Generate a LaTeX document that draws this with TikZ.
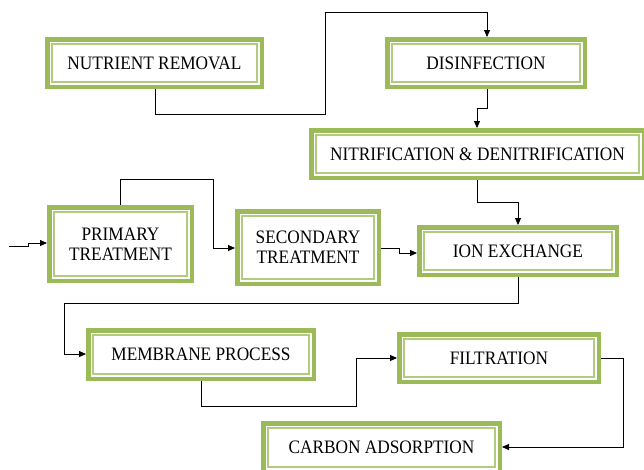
\documentclass[tikz,border=0pt]{standalone}
\usepackage{fontspec}
\setmainfont{Liberation Serif}[FakeStretch=0.91]
\usetikzlibrary{arrows.meta}
\definecolor{gOut}{HTML}{9BBB59}
\definecolor{gIn}{HTML}{B3CB7E}
\tikzset{
  bx/.style={draw=gOut, line width=4.5pt, fill=white, align=center, inner sep=0pt,
    font=\fontsize{19}{20}\selectfont},
  inner/.style={draw=gIn, line width=1.4pt},
  conn/.style={draw=black, line width=0.8pt, -{Triangle[length=7pt,width=6pt]}},
}
\newcommand\bx[6]{%
  \node[bx, minimum width={(#4-#2-4.5)*1pt}, minimum height={(#5-#3-4.5)*1pt}] (#1) at ({(#2+#4)/2},{(#3+#5)/2}) {#6};
  \draw[inner] ([shift={(7pt,-7pt)}]#1.north west) rectangle ([shift={(-7pt,7pt)}]#1.south east);
}
\begin{document}
\begin{tikzpicture}[x=1pt,y=-1pt]
\useasboundingbox (0,0) rectangle (644,469);
\bx{nr}{45}{37}{264}{89}{NUTRIENT REMOVAL}
\bx{dis}{385}{37}{587}{89}{DISINFECTION}
\bx{nit}{309}{128}{646}{180}{NITRIFICATION \& DENITRIFICATION}
\bx{pri}{47}{205}{194}{283}{PRIMARY\\TREATMENT}
\bx{sec}{235}{209}{381}{286}{SECONDARY\\TREATMENT}
\bx{ion}{417}{225}{619}{277}{ION EXCHANGE}
\bx{mem}{86}{328}{316}{381}{MEMBRANE PROCESS}
\bx{fil}{397}{332}{601}{384}{FILTRATION}
\bx{car}{261}{421}{502}{474}{CARBON ADSORPTION}
\coordinate (in) at (9,246);
\draw[conn] (nr.south -| 155,0) -- (155,114) -- (325,114) -- (325,12) -- (487,12) -- (dis.north -| 487,0);
\draw[conn] (dis.south -| 487,0) -- (487,108) -- (477,108) -- (nit.north -| 477,0);
\draw[conn] (nit.south -| 477,0) -- (477,202) -- (518,202) -- (ion.north -| 518,0);
\draw[conn] (in) -- (28,246) -- (28,243) -- (pri.west |- 0,243);
\draw[conn] (pri.north -| 120,0) -- (120,179) -- (213,179) -- (213,248) -- (sec.west |- 0,248);
\draw[conn] (sec.east |- 0,248) -- (399,248) -- (399,253) -- (ion.west |- 0,253);
\draw[conn] (ion.south -| 518,0) -- (518,303) -- (64,303) -- (64,354) -- (mem.west |- 0,354);
\draw[conn] (mem.south -| 201,0) -- (201,406) -- (356,406) -- (356,358) -- (fil.west |- 0,358);
\draw[conn] (fil.east |- 0,358) -- (623,358) -- (623,447) -- (car.east |- 0,447);
\end{tikzpicture}
\end{document}
